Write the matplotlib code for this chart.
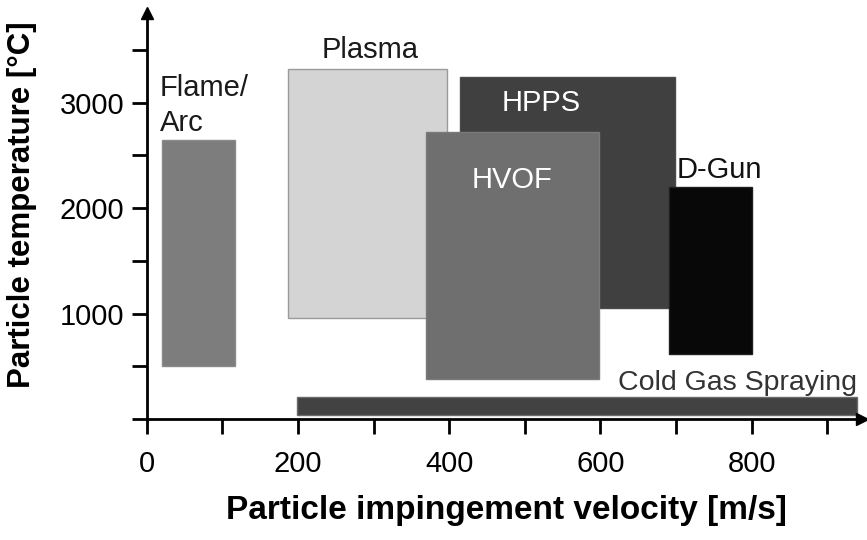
import numpy as np
import matplotlib.pyplot as plt

plt.rcParams["font.family"] = ["Liberation Sans", "DejaVu Sans"]

# Process windows: velocity range [m/s] and particle temperature range [°C]
processes = ["Flame/\nArc", "Plasma", "HPPS", "HVOF", "D-Gun", "Cold Gas Spraying"]
v_min = np.array([20, 187, 414, 369, 691, 199])
v_max = np.array([117, 397, 699, 598, 800, 940])
t_min = np.array([500, 955, 1050, 380, 615, 40])
t_max = np.array([2650, 3315, 3245, 2720, 2200, 205])

colors = ["#7d7d7d", "#d4d4d4", "#404040", "#6f6f6f", "#080808", "#424242"]
edges = ["#8a8a8a", "#9a9a9a", "#4a4a4a", "#7a7a7a", "#202020", "#6a6a6a"]

# label anchor points (data coords) and styles
label_x = [17, 295, 522, 483, 757, 781]
label_y = [2970, 3500, 2995, 2265, 2360, 345]
label_ha = ["left", "center", "center", "center", "center", "center"]
label_color = ["#1a1a1a", "#1a1a1a", "white", "white", "#111111", "#333333"]
label_size = [21, 21, 21, 21, 21, 20.5]

x_ticks = np.arange(0, 1000, 100)
x_labels = ["0", "", "200", "", "400", "", "600", "", "800", ""]
y_ticks = np.arange(0, 4000, 500)
y_labels = ["", "", "1000", "", "2000", "", "3000", ""]

fig = plt.figure(figsize=(8.67, 5.4), dpi=100)
ax = fig.add_axes([146.7 / 867, 121 / 540, 715.3 / 867, 406 / 540])

ax.bar(
    v_min,
    t_max - t_min,
    width=v_max - v_min,
    bottom=t_min,
    align="edge",
    color=colors,
    edgecolor=edges,
    linewidth=1.0,
    zorder=2,
)

for name, x, y, ha, c, s in zip(processes, label_x, label_y, label_ha,
                                 label_color, label_size):
    ax.text(x, y, name, ha=ha, va="center", fontsize=s, color=c,
            linespacing=1.3, zorder=3)

ax.set_xlim(0, 946)
ax.set_ylim(0, 3850)

ax.set_xticks(x_ticks)
ax.set_xticklabels(x_labels)
ax.set_yticks(y_ticks)
ax.set_yticklabels(y_labels)

for side in ["top", "right"]:
    ax.spines[side].set_visible(False)
for side in ["left", "bottom"]:
    ax.spines[side].set_linewidth(2.0)

ax.tick_params(axis="x", length=11, width=2.0, labelsize=21, pad=11)
ax.tick_params(axis="y", length=11, width=2.0, labelsize=21, pad=5)

# arrow heads on the axes
ax.plot(1, 0, ">k", markersize=9, transform=ax.transAxes, clip_on=False)
ax.plot(0, 1, "^k", markersize=9, transform=ax.transAxes, clip_on=False)

fig.text(506 / 867, 1 - 510 / 540, "Particle impingement velocity [m/s]",
         ha="center", va="center", fontsize=24, fontweight="bold")
fig.text(22 / 867, 1 - 205 / 540, "Particle temperature [°C]",
         ha="center", va="center", rotation=90, fontsize=22.5, fontweight="bold")

fig.savefig("out.png", dpi=100)
